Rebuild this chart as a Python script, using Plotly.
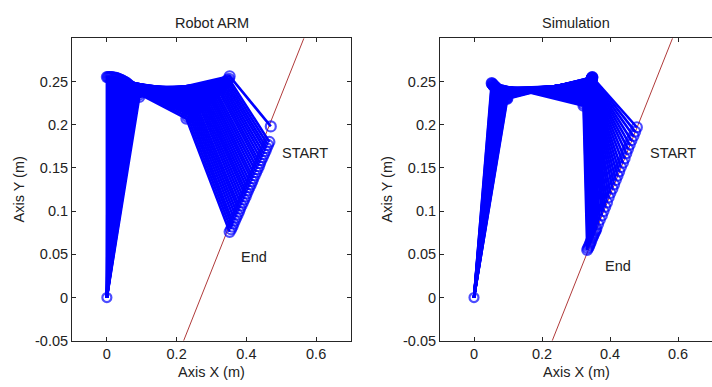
import plotly.graph_objects as go

# ---------------- data ----------------
base_x, base_y = 0.0, 0.0

# Robot ARM: joint 1, joint 2 and end-effector per frame
robot_j1x = [0.093, 0.090, 0.087, 0.084, 0.081, 0.078, 0.075, 0.072, 0.069, 0.066, 0.063,
             0.060, 0.057, 0.054, 0.051, 0.048, 0.045, 0.042, 0.039, 0.036, 0.033,
             0.030, 0.027, 0.024, 0.021, 0.018, 0.015, 0.012, 0.009, 0.006, 0.003, 0.000]
robot_j1y = [0.232, 0.234, 0.236, 0.2375, 0.239, 0.2405, 0.242, 0.243, 0.244, 0.245, 0.246,
             0.247, 0.248, 0.249, 0.2495, 0.250, 0.251, 0.2515, 0.252, 0.2525, 0.253,
             0.2535, 0.254, 0.254, 0.2545, 0.2545, 0.255, 0.255, 0.255, 0.255, 0.255, 0.255]
robot_j2x = [0.352, 0.350, 0.346, 0.342, 0.338, 0.334, 0.330, 0.326, 0.322, 0.318, 0.313,
             0.309, 0.305, 0.301, 0.297, 0.293, 0.289, 0.285, 0.281, 0.277, 0.273,
             0.269, 0.265, 0.260, 0.256, 0.252, 0.248, 0.244, 0.240, 0.236, 0.232, 0.228]
robot_j2y = [0.256, 0.253, 0.2515, 0.250, 0.2485, 0.247, 0.2455, 0.244, 0.2425, 0.241, 0.2395,
             0.238, 0.2365, 0.235, 0.2335, 0.232, 0.2305, 0.229, 0.2275, 0.226, 0.2245,
             0.223, 0.2215, 0.220, 0.2185, 0.217, 0.2155, 0.214, 0.2125, 0.211, 0.209, 0.207]
robot_ex = [0.470, 0.466, 0.462, 0.458, 0.455, 0.451, 0.447, 0.443, 0.439, 0.436, 0.432,
            0.428, 0.424, 0.420, 0.417, 0.413, 0.409, 0.405, 0.401, 0.398, 0.394,
            0.390, 0.386, 0.382, 0.379, 0.375, 0.371, 0.367, 0.363, 0.360, 0.356, 0.352]
robot_ey = [0.198, 0.180, 0.1765, 0.173, 0.1695, 0.166, 0.1625, 0.159, 0.1555, 0.152, 0.1485,
            0.145, 0.1415, 0.138, 0.1345, 0.131, 0.1275, 0.124, 0.1205, 0.117, 0.1135,
            0.110, 0.1065, 0.103, 0.0995, 0.096, 0.0925, 0.089, 0.0855, 0.082, 0.079, 0.076]

# Simulation: joint 1, joint 2 and end-effector per frame
sim_j1x = [0.098, 0.097, 0.095, 0.094, 0.093, 0.091, 0.090, 0.089, 0.087, 0.086, 0.085, 0.084,
           0.082, 0.081, 0.080, 0.078, 0.077, 0.076, 0.074, 0.073, 0.072, 0.070, 0.069, 0.068,
           0.066, 0.065, 0.064, 0.062, 0.061, 0.060, 0.058, 0.057, 0.056, 0.055, 0.053, 0.052]
sim_j1y = [0.2300, 0.2305, 0.2310, 0.2315, 0.2320, 0.2325, 0.2330, 0.2335, 0.2340, 0.2345, 0.2350,
           0.2355, 0.2360, 0.2365, 0.2370, 0.2375, 0.2380, 0.2385, 0.2390, 0.2395, 0.2400, 0.2405,
           0.2410, 0.2415, 0.2420, 0.2425, 0.2430, 0.2435, 0.2440, 0.2445, 0.2450, 0.2455, 0.2460,
           0.2465, 0.2475, 0.2480]
sim_j2x = [0.348, 0.348, 0.347, 0.347, 0.347, 0.346, 0.346, 0.346, 0.345, 0.345, 0.345, 0.344,
           0.344, 0.344, 0.343, 0.343, 0.343, 0.342, 0.342, 0.342, 0.341, 0.341, 0.340, 0.340,
           0.338, 0.337, 0.335, 0.334, 0.332, 0.331, 0.329, 0.328, 0.326, 0.325, 0.323, 0.322]
sim_j2y = [0.2550, 0.2546, 0.2542, 0.2538, 0.2535, 0.2531, 0.2527, 0.2523, 0.2519, 0.2515, 0.2511,
           0.2507, 0.2503, 0.2499, 0.2495, 0.2491, 0.2487, 0.2483, 0.2479, 0.2475, 0.2471, 0.2467,
           0.2463, 0.2460, 0.2440, 0.2420, 0.2400, 0.2380, 0.2360, 0.2340, 0.2320, 0.2300, 0.2280,
           0.2260, 0.2240, 0.2220]
sim_ex = [0.479, 0.474, 0.469, 0.463, 0.458, 0.453, 0.448, 0.443, 0.438, 0.432, 0.427, 0.422,
          0.417, 0.412, 0.407, 0.401, 0.396, 0.391, 0.386, 0.381, 0.376, 0.370, 0.365, 0.360,
          0.358, 0.356, 0.353, 0.351, 0.349, 0.347, 0.344, 0.342, 0.340, 0.338, 0.335, 0.333]
sim_ey = [0.197, 0.192, 0.187, 0.182, 0.177, 0.172, 0.167, 0.161, 0.156, 0.151, 0.146, 0.141,
          0.136, 0.131, 0.126, 0.121, 0.116, 0.110, 0.105, 0.100, 0.095, 0.090, 0.085, 0.080,
          0.078, 0.076, 0.074, 0.072, 0.070, 0.068, 0.065, 0.063, 0.061, 0.059, 0.057, 0.055]

# Straight reference path (red line) endpoints
robot_path_x = [0.220, 0.565]
robot_path_y = [-0.05, 0.30]
sim_path_x = [0.230, 0.584]
sim_path_y = [-0.05, 0.30]

panel_titles = ["Robot ARM", "Simulation"]
x_title = "Axis X (m)"
y_title = "Axis Y (m)"
x_ticks = [0, 0.2, 0.4, 0.6]
x_ticktext = ["0", "0.2", "0.4", "0.6"]
y_ticks = [-0.05, 0, 0.05, 0.1, 0.15, 0.2, 0.25]
y_ticktext = ["-0.05", "0", "0.05", "0.1", "0.15", "0.2", "0.25"]
start_label, end_label = "START", "End"
robot_start_pos, robot_end_pos = (0.495, 0.167), (0.378, 0.047)
sim_start_pos, sim_end_pos = (0.511, 0.167), (0.378, 0.037)

# ---------------- figure ----------------
W, H = 712, 387
BLUE = "#0000ff"
RED = "#b03a3a"
AX = "#262626"
FONT = "Liberation Sans, Arial, sans-serif"
FS = 14.5
MS = 10

fig = go.Figure()


def arm_xy(j1x, j1y, j2x, j2y, ex, ey):
    xs, ys, sz = [], [], []
    for i, (a, b, c, d, e, f) in enumerate(zip(j1x, j1y, j2x, j2y, ex, ey)):
        xs += [base_x, a, c, e, None]
        ys += [base_y, b, d, f, None]
        sz += [9 if i == 0 else 0, MS, MS, MS, 0]
    return xs, ys, sz


panels = [
    ("x", "y", robot_path_x, robot_path_y,
     (robot_j1x, robot_j1y, robot_j2x, robot_j2y, robot_ex, robot_ey)),
    ("x2", "y2", sim_path_x, sim_path_y,
     (sim_j1x, sim_j1y, sim_j2x, sim_j2y, sim_ex, sim_ey)),
]

for xa, ya, px, py, arm in panels:
    fig.add_trace(go.Scatter(x=px, y=py, mode="lines", xaxis=xa, yaxis=ya,
                             line=dict(color=RED, width=1), hoverinfo="skip"))
    xs, ys, sz = arm_xy(*arm)
    fig.add_trace(go.Scatter(x=xs, y=ys, mode="lines+markers", xaxis=xa, yaxis=ya,
                             line=dict(color=BLUE, width=2.6),
                             marker=dict(symbol="circle-open", size=sz, color=BLUE,
                                         line=dict(width=2.2, color=BLUE)),
                             connectgaps=False, hoverinfo="skip"))

xdom1 = [72 / W, 351 / W]
xdom2 = [440 / W, 1.0]
ydom = [1 - 348 / H, 1 - 39 / H]

axis_common = dict(ticks="inside", ticklen=4, tickwidth=1, tickcolor=AX,
                   showline=True, linecolor=AX, linewidth=1,
                   showgrid=False, zeroline=False,
                   tickfont=dict(family=FONT, size=FS, color="#222222"))

fig.update_layout(
    width=W, height=H, margin=dict(l=0, r=0, t=0, b=0),
    paper_bgcolor="white", plot_bgcolor="white", showlegend=False,
    xaxis=dict(domain=xdom1, range=[-0.1, 0.7], tickvals=x_ticks, ticktext=x_ticktext,
               anchor="y", mirror="ticks", **axis_common),
    yaxis=dict(domain=ydom, range=[-0.05, 0.3], tickvals=y_ticks, ticktext=y_ticktext,
               anchor="x", mirror="ticks", **axis_common),
    xaxis2=dict(domain=xdom2, range=[-0.1, 0.7], tickvals=x_ticks, ticktext=x_ticktext,
                anchor="y2", mirror="ticks", **axis_common),
    yaxis2=dict(domain=ydom, range=[-0.05, 0.3], tickvals=y_ticks, ticktext=y_ticktext,
                anchor="x2", mirror=False, **axis_common),
)

txt = dict(family=FONT, size=FS, color="#222222")
ann = []
for dom, title in zip([xdom1, xdom2], panel_titles):
    cx = (dom[0] + dom[1]) / 2
    ann.append(dict(text=title, x=cx, y=1 - 23 / H, xref="paper", yref="paper",
                    showarrow=False, font=txt, xanchor="center", yanchor="middle"))
    ann.append(dict(text=x_title, x=cx, y=1 - 380 / H, xref="paper", yref="paper",
                    showarrow=False, font=txt, xanchor="center", yanchor="middle"))
    ann.append(dict(text=y_title, x=(dom[0] * W - 54) / W, y=(ydom[0] + ydom[1]) / 2,
                    xref="paper", yref="paper", textangle=-90,
                    showarrow=False, font=txt, xanchor="center", yanchor="middle"))

for xr, yr, sp, ep in [("x", "y", robot_start_pos, robot_end_pos),
                       ("x2", "y2", sim_start_pos, sim_end_pos)]:
    ann.append(dict(text=start_label, x=sp[0], y=sp[1], xref=xr, yref=yr, showarrow=False,
                    font=txt, xanchor="left", yanchor="middle"))
    ann.append(dict(text=end_label, x=ep[0], y=ep[1], xref=xr, yref=yr, showarrow=False,
                    font=txt, xanchor="left", yanchor="middle"))

fig.update_layout(annotations=ann)
fig.write_html("out.html")
